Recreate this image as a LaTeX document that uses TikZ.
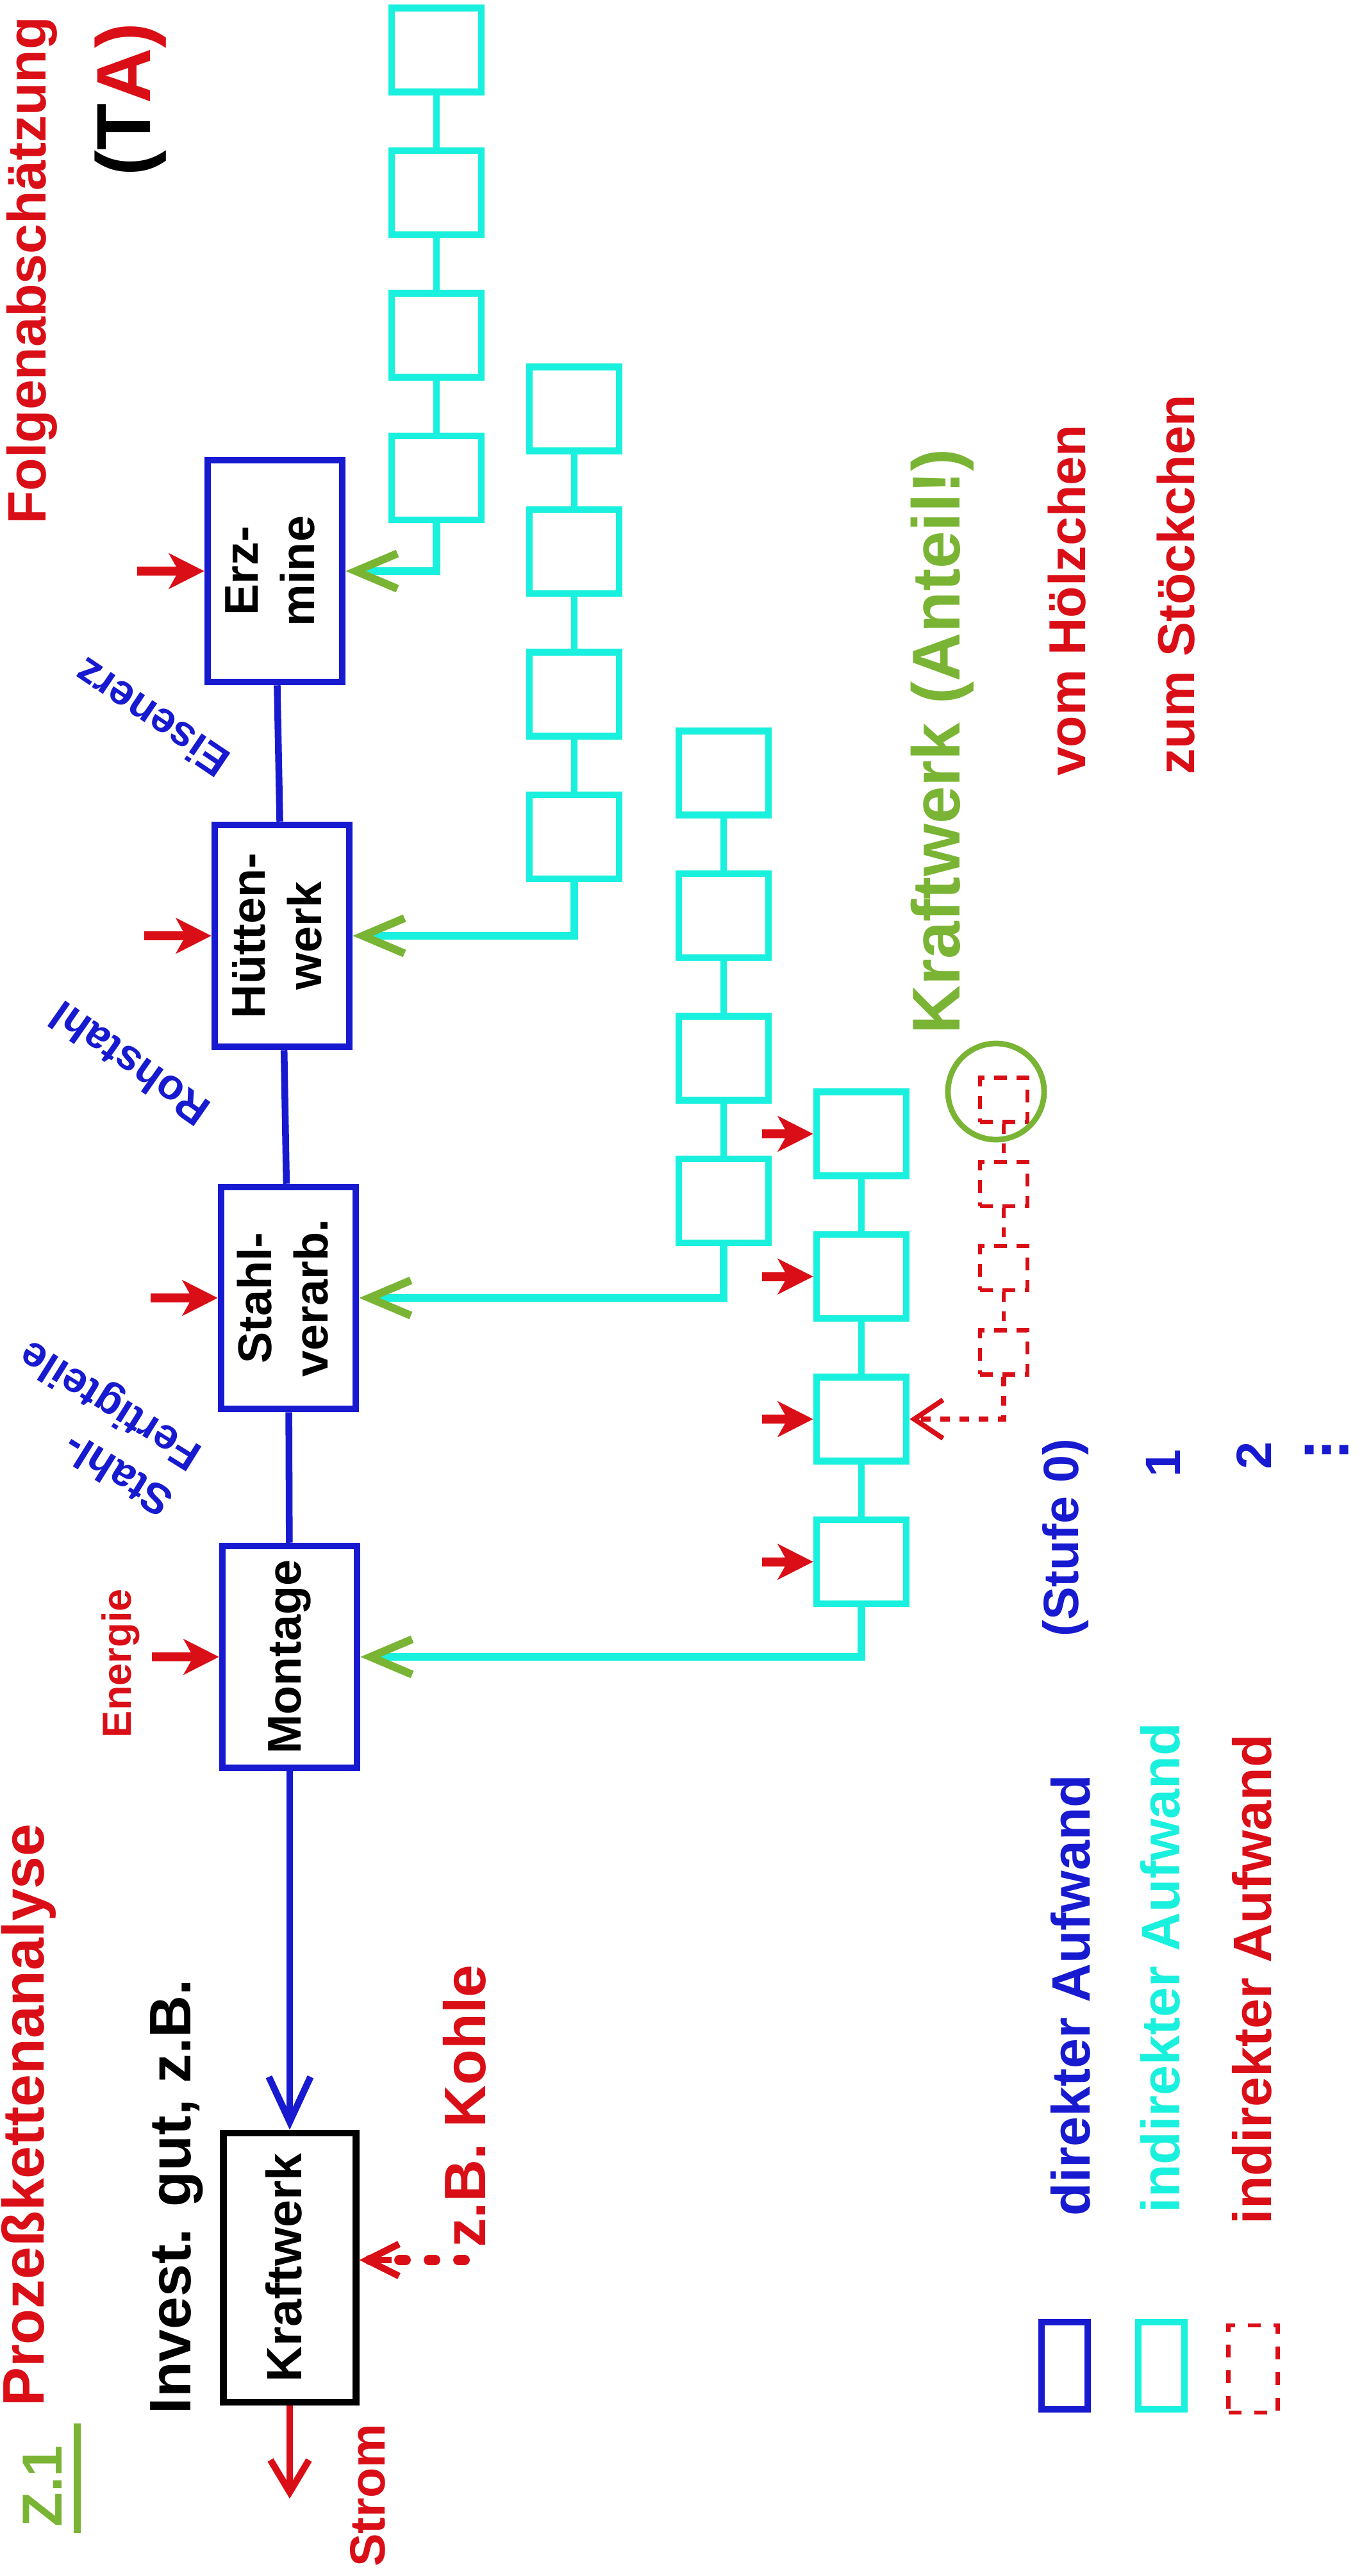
\documentclass[tikz,border=0pt]{standalone}
\usepackage{fontspec}
\setmainfont{Liberation Sans}
\usepackage{tikz}
\usetikzlibrary{
    arrows.meta,
    positioning
}
\definecolor{handblue}{RGB}{24,26,208}
\definecolor{handcyan}{RGB}{26,240,222}
\definecolor{handgreen}{RGB}{122,180,52}
\definecolor{handred}{RGB}{218,14,22}
\newcommand{\turned}[1]{\rotatebox{90}{\begin{tabular}{@{}c@{}}#1\end{tabular}}}
\newcommand{\handfont}[2]{\fontsize{#1}{#2}\selectfont\bfseries}
\tikzstyle{hand} = [
    inner sep=1pt,
    font=\bfseries
]
\tikzstyle{mainbox} = [
    draw=handblue,
    line width=3pt,
    minimum width=2.1cm,
    minimum height=3.46cm,
    inner sep=0pt,
    font=\handfont{21}{25}
]
\tikzstyle{plantbox} = [
    draw=black,
    line width=3pt,
    minimum width=2.07cm,
    minimum height=4.2cm,
    inner sep=0pt,
    font=\handfont{22}{26}
]
\tikzstyle{mainlink} = [
    draw=handblue,
    line width=3pt
]
\tikzstyle{inarrow} = [
    draw=handred,
    line width=4pt,
    -{Stealth[length=5.5mm, width=5.5mm, inset=1.5mm]}
]
\tikzstyle{outarrow} = [
    draw=handred,
    line width=3pt,
    -{Straight Barb[length=5mm, width=6mm]}
]
\tikzstyle{supplybox} = [
    draw=handcyan,
    line width=3pt,
    minimum width=1.4cm,
    minimum height=1.31cm,
    inner sep=0pt
]
\tikzstyle{supplylink} = [
    draw=handcyan,
    line width=3pt
]
\tikzstyle{feedline} = [
    draw=handcyan,
    line width=3.5pt,
    -{Straight Barb[color=handgreen, length=6.5mm, width=5.5mm]}
]
\tikzstyle{dashbox} = [
    draw=handred,
    line width=1.8pt,
    dash pattern=on 2mm off 1.5mm,
    minimum width=0.74cm,
    minimum height=0.69cm,
    inner sep=0pt
]
\tikzstyle{dashlink} = [
    draw=handred,
    line width=1.8pt,
    dash pattern=on 1.5mm off 1.5mm
]
\tikzstyle{dotarrow} = [
    draw=handred,
    line width=4.5pt,
    line cap=round,
    dash pattern=on 1mm off 3.6mm
]
\tikzstyle{ring} = [
    circle,
    draw=handgreen,
    line width=2.5pt,
    minimum size=1.5cm,
    inner sep=0pt
]
\tikzstyle{legbox} = [
    line width=3pt,
    minimum width=0.72cm,
    minimum height=1.36cm,
    inner sep=0pt
]

\begin{document}
\begin{tikzpicture}
    \useasboundingbox (0,0) rectangle (21.24,-40.19);

    % Headings
    \node[hand, text=handred, rotate=90, font=\handfont{24}{28}] (title) at (0.50,-4.22) {Folgenabschätzung};
    \node[hand, text=black, rotate=90, font=\handfont{34}{38}] (ta) at (2.04,-1.55) {(T{\color{handred}A)}};
    \node[hand, text=handred, rotate=90, font=\handfont{26}{30}] (pka) at (0.45,-33.00) {Prozeßkettenanalyse};
    \node[hand, text=handgreen, rotate=90, font=\handfont{25}{30}] (zeins) at (0.66,-38.79) {Z.1};
    \draw[handgreen, line width=3pt] ([xshift=2mm, yshift=-0.5mm]zeins.south west) -- ([xshift=2mm, yshift=3mm]zeins.south east);

    % Main process chain
    \node[mainbox] (erz) at (4.29,-8.91) {\turned{Erz-\\mine}};
    \node[mainbox] (huette) at (4.40,-14.60) {\turned{Hütten-\\werk}};
    \node[mainbox] (stahl) at (4.50,-20.25) {\turned{Stahl-\\verarb.}};
    \node[mainbox] (montage) at (4.52,-25.85) {\turned{Montage}};
    \node[plantbox] (kraftwerk) at (4.52,-35.38) {\turned{Kraftwerk}};

    \draw[mainlink] (erz) -- (huette);
    \draw[mainlink] (huette) -- (stahl);
    \draw[mainlink] (stahl) -- (montage);
    \draw[mainlink, -{Straight Barb[length=7mm, width=6.5mm]}] (montage) -- (kraftwerk);

    % Product labels
    \node[hand, text=handblue, rotate=146, font=\handfont{19}{24}] (eisenerz) at (2.36,-11.20) {Eisenerz};
    \node[hand, text=handblue, rotate=145, font=\handfont{19}{24}] (rohstahl) at (2.02,-16.60) {Rohstahl};
    \node[hand, text=handblue, rotate=148, align=left, font=\handfont{19}{24}] (fertig) at (1.52,-22.25) {Stahl-\\Fertigteile};

    % Direct energy input
    \coordinate[left=1.05cm of erz.west] (erzin);
    \coordinate[left=1.05cm of huette.west] (huettein);
    \coordinate[left=1.05cm of stahl.west] (stahlin);
    \coordinate[left=1.05cm of montage.west] (montagein);
    \draw[inarrow] (erzin) -- (erz.west);
    \draw[inarrow] (huettein) -- (huette.west);
    \draw[inarrow] (stahlin) -- (stahl.west);
    \draw[inarrow] (montagein) -- (montage.west);
    \node[hand, text=handred, rotate=90, font=\handfont{18}{22}] (energie) at (1.88,-25.95) {Energie};

    % Power plant
    \node[hand, text=black, rotate=90, font=\handfont{26}{30}] (invest) at (2.76,-34.27) {Invest. gut, z.B.};
    \node[hand, text=handred, rotate=90, font=\handfont{26}{30}] (kohle) at (7.25,-32.86) {z.B. Kohle};
    \coordinate[below=1.5mm of kohle.west] (kohleout);
    \draw[dotarrow] (kohleout) -- (kohleout -| kraftwerk.east);
    \draw[handred, line width=3pt, -{Straight Barb[length=5mm, width=5mm]}] ([xshift=5mm]kohleout -| kraftwerk.east) -- (kohleout -| kraftwerk.east);
    \coordinate[below=1.45cm of kraftwerk.south] (stromend);
    \draw[outarrow] (kraftwerk) -- (stromend);
    \node[hand, text=handred, rotate=90, font=\handfont{22}{26}] (strom) at (5.74,-38.93) {Strom};

    % Upstream chain for Erzmine
    \node[supplybox] (a1) at (6.81,-0.78) {};
    \node[supplybox, below=0.81cm of a1] (a2) {};
    \node[supplybox, below=0.81cm of a2] (a3) {};
    \node[supplybox, below=0.81cm of a3] (a4) {};
    \draw[supplylink] (a1) -- (a2);
    \draw[supplylink] (a2) -- (a3);
    \draw[supplylink] (a3) -- (a4);
    \draw[feedline] (a4.south) |- (erz.east);

    % Upstream chain for Huettenwerk
    \node[supplybox] (b1) at (8.96,-6.38) {};
    \node[supplybox, below=0.81cm of b1] (b2) {};
    \node[supplybox, below=0.81cm of b2] (b3) {};
    \node[supplybox, below=0.81cm of b3] (b4) {};
    \draw[supplylink] (b1) -- (b2);
    \draw[supplylink] (b2) -- (b3);
    \draw[supplylink] (b3) -- (b4);
    \draw[feedline] (b4.south) |- (huette.east);

    % Upstream chain for Stahlverarbeitung
    \node[supplybox] (c1) at (11.29,-12.06) {};
    \node[supplybox, below=0.81cm of c1] (c2) {};
    \node[supplybox, below=0.81cm of c2] (c3) {};
    \node[supplybox, below=0.81cm of c3] (c4) {};
    \draw[supplylink] (c1) -- (c2);
    \draw[supplylink] (c2) -- (c3);
    \draw[supplylink] (c3) -- (c4);
    \draw[feedline] (c4.south) |- (stahl.east);

    % Upstream chain for Montage (Stufe 1)
    \node[supplybox] (d1) at (13.44,-17.69) {};
    \node[supplybox, below=0.81cm of d1] (d2) {};
    \node[supplybox, below=0.81cm of d2] (d3) {};
    \node[supplybox, below=0.81cm of d3] (d4) {};
    \draw[supplylink] (d1) -- (d2);
    \draw[supplylink] (d2) -- (d3);
    \draw[supplylink] (d3) -- (d4);
    \draw[feedline] (d4.south) |- (montage.east);
    \coordinate[left=0.8cm of d1.west] (d1in);
    \coordinate[left=0.8cm of d2.west] (d2in);
    \coordinate[left=0.8cm of d3.west] (d3in);
    \coordinate[left=0.8cm of d4.west] (d4in);
    \draw[inarrow] (d1in) -- (d1.west);
    \draw[inarrow] (d2in) -- (d2.west);
    \draw[inarrow] (d3in) -- (d3.west);
    \draw[inarrow] (d4in) -- (d4.west);

    % Stufe 2 chain with power plant share
    \node[dashbox] (e1) at (15.66,-17.16) {};
    \node[dashbox, below=0.56cm of e1] (e2) {};
    \node[dashbox, below=0.56cm of e2] (e3) {};
    \node[dashbox, below=0.56cm of e3] (e4) {};
    \draw[dashlink] (e1) -- (e2);
    \draw[dashlink] (e2) -- (e3);
    \draw[dashlink] (e3) -- (e4);
    \draw[dashlink, line width=2.2pt, -{Straight Barb[length=4.5mm, width=6mm]}] (e4.south) |- (d3.east);
    \node[ring] (ring) at (15.54,-17.03) {};
    \node[hand, text=handgreen, rotate=90, font=\handfont{30}{34}] (anteil) at (14.70,-11.57) {Kraftwerk (Anteil!)};
    \node[hand, text=handred, rotate=90, font=\handfont{23}{28}] (hoelz) at (16.65,-9.37) {vom Hölzchen};
    \node[hand, text=handred, rotate=90, font=\handfont{23}{28}] (stoeck) at (18.35,-9.12) {zum Stöckchen};

    % Stufen
    \node[hand, text=handblue, rotate=90, font=\handfont{22}{26}] (stufe) at (16.62,-23.99) {(Stufe 0)};
    \node[hand, text=handblue, rotate=90, font=\handfont{22}{26}] (stufeeins) at (18.15,-22.83) {1};
    \node[hand, text=handblue, rotate=90, font=\handfont{22}{26}] (stufezwei) at (19.56,-22.71) {2};
    \node[hand, text=handblue, font=\handfont{28}{32}] (stufemehr) at (20.70,-22.62) {...};

    % Legend
    \node[hand, text=handblue, rotate=90, font=\handfont{24}{28}] (txtdir) at (16.70,-31.13) {direkter Aufwand};
    \node[hand, text=handcyan, rotate=90, font=\handfont{24}{28}] (txtind) at (18.10,-30.70) {indirekter Aufwand};
    \node[hand, text=handred, rotate=90, font=\handfont{24}{28}] (txtrest) at (19.53,-30.88) {indirekter Aufwand};
    \node[legbox, draw=handblue] (legdir) at (16.61,-36.91) {};
    \node[legbox, draw=handcyan] (legind) at (18.12,-36.91) {};
    \node[legbox, draw=handred, line width=1.8pt, dash pattern=on 2mm off 2mm, minimum width=0.77cm] (legrest) at (19.55,-36.96) {};
\end{tikzpicture}
\end{document}
